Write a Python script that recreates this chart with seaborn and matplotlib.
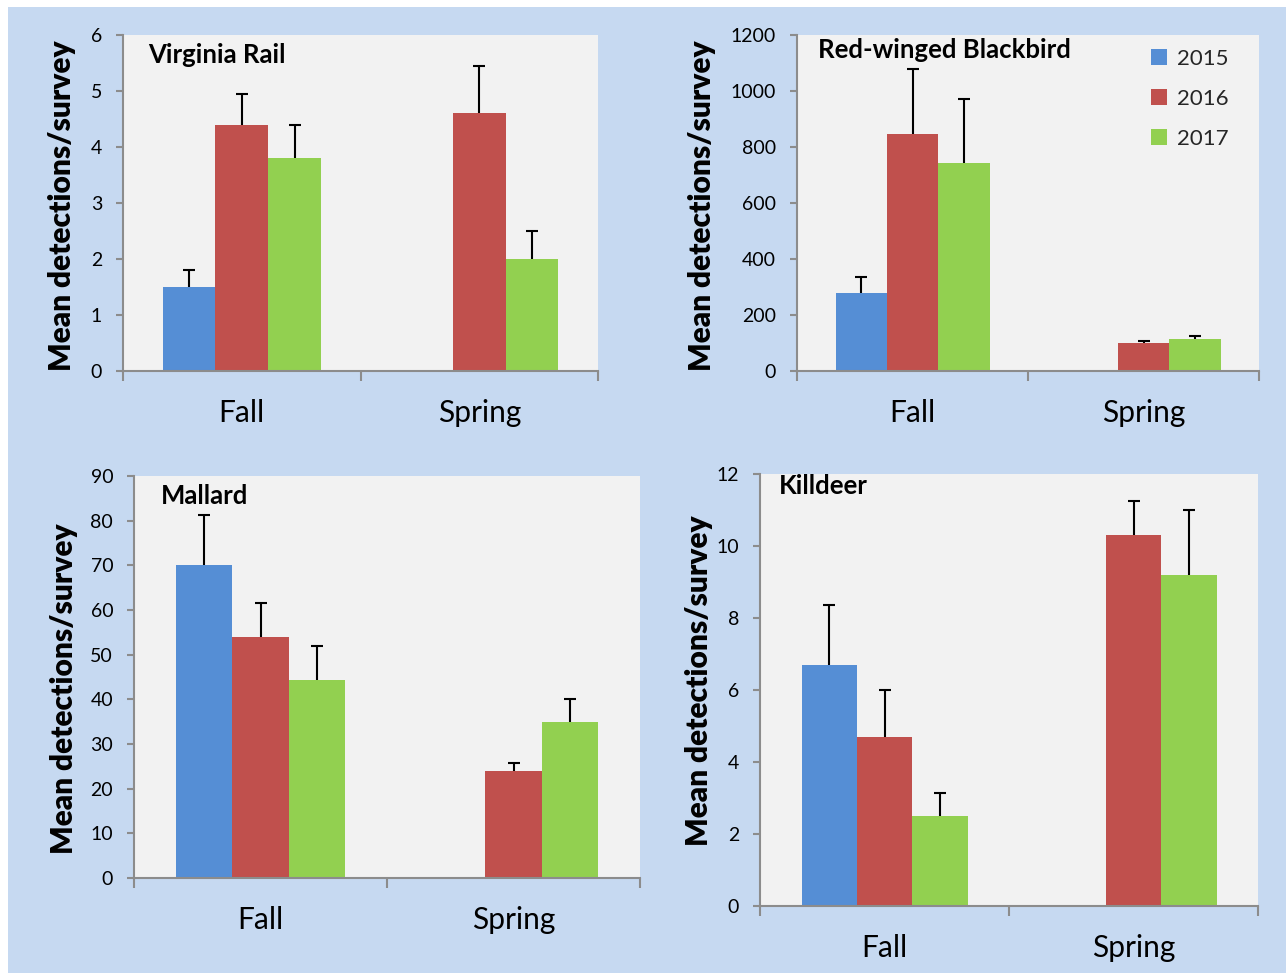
import numpy as np
import pandas as pd
import matplotlib
matplotlib.use("Agg")
import matplotlib.pyplot as plt
from matplotlib.patches import Rectangle
import seaborn as sns

# ---- data -------------------------------------------------------------
seasons = ["Fall", "Spring"]
years = ["2015", "2016", "2017"]

species = ["Virginia Rail", "Red-winged Blackbird", "Mallard", "Killdeer"]

# mean detections per survey (season x year); Spring 2015 not surveyed
rail_fall = [1.5, 4.4, 3.8]
rail_spring = [None, 4.6, 2.0]
rail_fall_se = [0.3, 0.55, 0.6]
rail_spring_se = [None, 0.85, 0.5]

rwbb_fall = [280, 846, 743]
rwbb_spring = [None, 100, 114]
rwbb_fall_se = [56, 232, 228]
rwbb_spring_se = [None, 7, 11]

mall_fall = [70.0, 54.0, 44.4]
mall_spring = [None, 23.9, 35.0]
mall_fall_se = [11.2, 7.6, 7.6]
mall_spring_se = [None, 1.8, 5.0]

kill_fall = [6.7, 4.7, 2.5]
kill_spring = [None, 10.3, 9.2]
kill_fall_se = [1.65, 1.3, 0.65]
kill_spring_se = [None, 0.95, 1.8]

y_max = [6, 1200, 90, 12]
y_step = [1, 200, 10, 2]

year_colors = ["#558ED5", "#C0504D", "#92D050"]

panels = [
    (rail_fall, rail_spring, rail_fall_se, rail_spring_se),
    (rwbb_fall, rwbb_spring, rwbb_fall_se, rwbb_spring_se),
    (mall_fall, mall_spring, mall_fall_se, mall_spring_se),
    (kill_fall, kill_spring, kill_fall_se, kill_spring_se),
]

# ---- styling ----------------------------------------------------------
sns.set_theme(style="white")
plt.rcParams["font.family"] = ["Lato", "DejaVu Sans"]

W, H = 1286, 973
fig = plt.figure(figsize=(W / 100, H / 100), dpi=100, facecolor="white")
fig.patches.append(Rectangle((8 / W, 0), 1, 1 - 7 / H, transform=fig.transFigure,
                             facecolor="#C6D9F1", edgecolor="none", zorder=-10))


def px_rect(l, t, r, b):
    return [l / W, 1 - b / H, (r - l) / W, (b - t) / H]


boxes = [(123, 35, 598, 371), (797, 35, 1259, 371),
         (134, 476, 640, 878), (760, 474, 1258, 906)]
title_off = [(25, 20), (21, 15), (27, 20), (19, 12)]
# right edge (in pixels) of each rotated y-axis label
ylab_x = [76, 716, 78, 713]
ylab_y = [206, 206, 689, 681]

spine_col = "#8C8C8C"

for i, (name, (fall, spring, fall_se, spring_se)) in enumerate(zip(species, panels)):
    ax = fig.add_axes(px_rect(*boxes[i]))
    ax.set_facecolor("#F2F2F2")

    rows = []
    for season, vals, errs in (("Fall", fall, fall_se), ("Spring", spring, spring_se)):
        for yr, v, e in zip(years, vals, errs):
            if v is not None:
                rows.append({"season": season, "year": yr, "value": v, "se": e})
    df = pd.DataFrame(rows)

    sns.barplot(data=df, x="season", y="value", hue="year", order=seasons,
                hue_order=years, palette=year_colors, saturation=1,
                width=2 / 3, errorbar=None, legend=False, ax=ax,
                linewidth=0)

    # upper-only standard error bars, matched to each drawn bar
    for cont, yr in zip(ax.containers, years):
        sub = df[df["year"] == yr]
        for bar in cont:
            bar.set_zorder(3)
            xc = bar.get_x() + bar.get_width() / 2
            season = seasons[int(round(xc))]
            rec = sub[sub["season"] == season].iloc[0]
            eb = ax.errorbar(xc, rec["value"], yerr=[[0], [rec["se"]]],
                             fmt="none", ecolor="black", elinewidth=1.5,
                             capsize=4.3, capthick=1.5, zorder=2)
            # keep only the cap at the top of the whisker
            for cap in eb[1]:
                if np.isclose(cap.get_ydata()[0], rec["value"]):
                    cap.set_visible(False)

    ax.set_ylim(0, y_max[i])
    ax.set_xlim(-0.5, 1.5)
    ax.set_yticks(np.arange(0, y_max[i] + y_step[i] / 2, y_step[i]))
    ax.set_xticks([0, 1])
    ax.set_xticks([-0.5, 0.5, 1.5], minor=True)
    ax.tick_params(axis="x", which="major", length=0, pad=20, labelsize=21.5,
                   labelcolor="black")
    ax.tick_params(axis="x", which="minor", length=7.5, width=1.5,
                   color=spine_col, bottom=True)
    ax.tick_params(axis="y", length=5, width=1.5, color=spine_col, left=True,
                   pad=10, labelsize=14, labelcolor="black")
    for s in ("top", "right"):
        ax.spines[s].set_visible(False)
    for s in ("left", "bottom"):
        ax.spines[s].set_color(spine_col)
        ax.spines[s].set_linewidth(1.5)
        ax.spines[s].set_zorder(4)
    ax.set_xlabel("")
    ax.set_ylabel("Mean detections/survey", fontsize=21.5, fontweight="heavy",
                  color="black")
    ax.yaxis.set_label_coords(ylab_x[i] / W, 1 - ylab_y[i] / H,
                              transform=fig.transFigure)

    dx, dy = title_off[i]
    ax.annotate(name, xy=(0, 1), xycoords="axes fraction",
                xytext=(dx * 0.72, -dy * 0.72), textcoords="offset points",
                ha="left", va="center", fontsize=18.5, fontweight="bold",
                color="black")

    if i == 1:
        handles = [Rectangle((0, 0), 1, 1, facecolor=c, edgecolor="none")
                   for c in year_colors]
        ax.legend(handles, years, loc="upper left", frameon=False,
                  bbox_to_anchor=(1151 / W, 1 - 49 / H),
                  bbox_transform=fig.transFigure, fontsize=16,
                  handlelength=0.7, handleheight=0.7, handletextpad=0.45,
                  labelspacing=0.9, borderaxespad=0, borderpad=0)

fig.savefig("out.png", dpi=100, facecolor=fig.get_facecolor())
